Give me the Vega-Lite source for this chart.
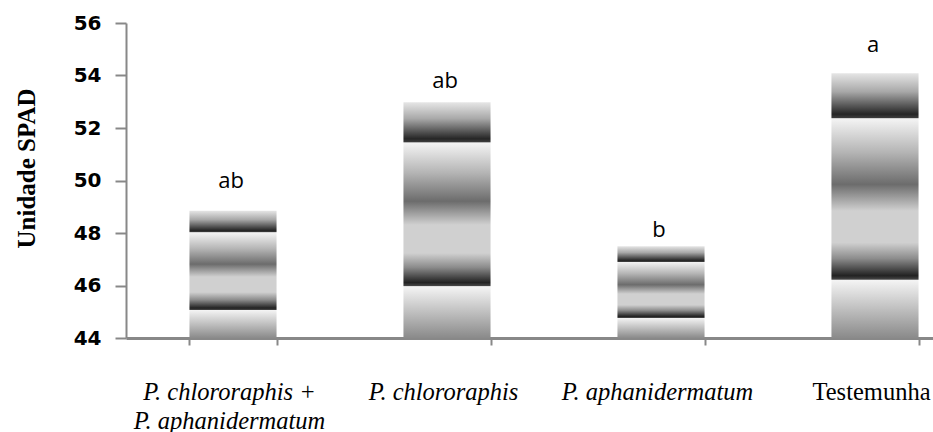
{
  "$schema": "https://vega.github.io/schema/vega-lite/v6.json",
  "autosize": "none",
  "width": 807,
  "height": 315,
  "padding": {"left": 126, "top": 23, "right": 0, "bottom": 94},
  "background": "white",
  "config": {"view": {"stroke": null}},
  "data": {
    "values": [
      {"tratamento": "P. chlororaphis + P. aphanidermatum", "spad": 48.85, "upper": 49.73, "letra": "ab"},
      {"tratamento": "P. chlororaphis", "spad": 52.98, "upper": 53.51, "letra": "ab"},
      {"tratamento": "P. aphanidermatum", "spad": 47.5, "upper": 47.84, "letra": "b"},
      {"tratamento": "Testemunha", "spad": 54.09, "upper": 54.9, "letra": "a"}
    ]
  },
  "encoding": {
    "x": {
      "field": "tratamento",
      "type": "nominal",
      "sort": null,
      "scale": {"range": [0, 856], "paddingInner": 0.593, "paddingOuter": 0.2965},
      "axis": {
        "title": null,
        "labelAngle": 0,
        "labelFont": "Liberation Serif",
        "labelFontSize": 24.5,
        "labelColor": "black",
        "labelFontStyle": {"condition": {"test": "datum.value === 'Testemunha'", "value": "normal"}, "value": "italic"},
        "labelExpr": "datum.value === 'P. chlororaphis + P. aphanidermatum' ? ['P. chlororaphis +', 'P. aphanidermatum'] : datum.label",
        "labelLineHeight": 29,
        "labelBaseline": "alphabetic",
        "labelPadding": 54,
        "labelOffset": -4,
        "labelLimit": 400,
        "labelOverlap": false,
        "domainColor": "#888888",
        "domainWidth": 3,
        "tickColor": "#888888",
        "tickWidth": 2,
        "tickSize": 7,
        "tickBand": "extent"
      }
    },
    "y": {
      "field": "spad",
      "type": "quantitative",
      "scale": {"domain": [44, 56], "nice": false, "zero": false},
      "axis": {
        "title": "Unidade SPAD",
        "titleFont": "Liberation Serif",
        "titleFontSize": 25,
        "titleFontWeight": "bold",
        "titleColor": "black",
        "titleX": -100,
        "titleY": 145,
        "titleAlign": "center",
        "titleBaseline": "middle",
        "titleAngle": -90,
        "values": [44, 46, 48, 50, 52, 54, 56],
        "labelFont": "DejaVu Sans",
        "labelFontSize": 20,
        "labelFontWeight": "bold",
        "labelColor": "black",
        "labelPadding": 14,
        "grid": false,
        "domainColor": "#888888",
        "domainWidth": 2,
        "tickColor": "#888888",
        "tickWidth": 2,
        "tickSize": 11
      }
    }
  },
  "layer": [
    {
      "mark": {
        "type": "bar",
        "color": {
          "gradient": "linear",
          "x1": 0, "y1": 0, "x2": 0, "y2": 1,
          "stops": [
            {"offset": 0, "color": "#e6e6e6"},
            {"offset": 0.07, "color": "#a8a8a8"},
            {"offset": 0.155, "color": "#262626"},
            {"offset": 0.168, "color": "#3c3c3c"},
            {"offset": 0.172, "color": "#f4f4f4"},
            {"offset": 0.3, "color": "#b4b4b4"},
            {"offset": 0.42, "color": "#6c6c6c"},
            {"offset": 0.52, "color": "#d0d0d0"},
            {"offset": 0.64, "color": "#d0d0d0"},
            {"offset": 0.7, "color": "#8c8c8c"},
            {"offset": 0.765, "color": "#222222"},
            {"offset": 0.778, "color": "#444444"},
            {"offset": 0.782, "color": "#f4f4f4"},
            {"offset": 1, "color": "#8a8a8a"}
          ]
        }
      },
      "encoding": {
        "y2": {"datum": 44}
      }
    },
    {
      "mark": {"type": "text", "font": "Open Sans", "fontSize": 22, "color": "black", "baseline": "alphabetic", "align": "center", "dx": -2},
      "encoding": {
        "y": {"field": "upper", "type": "quantitative"},
        "text": {"field": "letra"}
      }
    }
  ]
}
